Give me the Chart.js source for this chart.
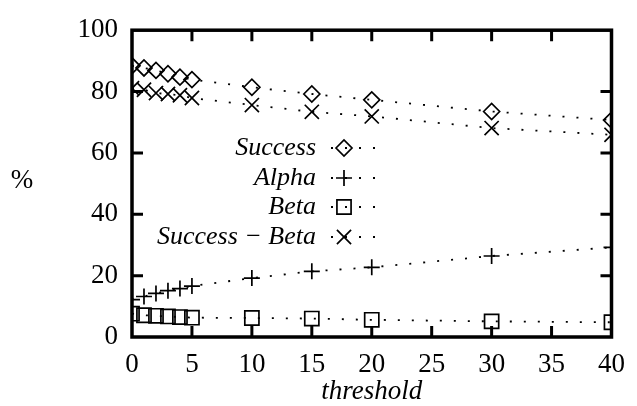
<!DOCTYPE html>
<html>
<head>
<meta charset="utf-8">
<script src="https://cdn.jsdelivr.net/npm/chart.js@4/dist/chart.umd.min.js"></script>
<style>
  html, body { margin: 0; padding: 0; background: #fff; }
  #wrap { width: 637px; height: 406px; }
</style>
</head>
<body>
<div id="wrap"><canvas id="chart" width="637" height="406"></canvas></div>
<script>
// data
const thresholds  = [0, 1, 2, 3, 4, 5, 10, 15, 20, 30, 40];
const success     = [88.4, 87.7, 86.9, 85.8, 84.7, 83.9, 81.4, 79.2, 77.3, 73.5, 70.7];
const alpha       = [12.2, 13.2, 14.2, 15.1, 15.8, 16.6, 19.2, 21.4, 22.7, 26.4, 29.2];
const beta        = [7.6, 7.1, 6.9, 6.7, 6.5, 6.3, 6.2, 6.0, 5.6, 5.1, 4.8];
const successBeta = [81.1, 80.6, 79.5, 79.2, 78.8, 77.9, 75.6, 73.4, 71.9, 68.1, 65.9];

const seriesLabels = ['Success', 'Alpha', 'Beta', 'Success \u2212 Beta'];
const xTicks = [0, 5, 10, 15, 20, 25, 30, 35, 40];
const yTicks = [0, 20, 40, 60, 80, 100];
const xTitle = 'threshold';
const yTitle = '%';

const SERIF = "'Liberation Serif', serif";
const DASH = [2, 12];

function pts(ys) {
  return thresholds.map((x, i) => ({x: x, y: ys[i]}));
}

function ds(label, ys, style, radius) {
  return {
    label: label,
    data: pts(ys),
    showLine: true,
    borderColor: '#000',
    borderWidth: 1.8,
    borderDash: DASH,
    backgroundColor: 'rgba(0,0,0,0)',
    pointStyle: style,
    pointRadius: radius,
    pointBorderWidth: 1.7,
    pointBorderColor: '#000',
    pointBackgroundColor: 'rgba(0,0,0,0)',
    tension: 0
  };
}

const data = {
  datasets: [
    ds(seriesLabels[0], success, 'rectRot', 8),
    ds(seriesLabels[1], alpha, 'cross', 8),
    ds(seriesLabels[2], beta, 'rect', 10),
    ds(seriesLabels[3], successBeta, 'crossRot', 10)
  ]
};

// frame, inward ticks, titles, legend
const decor = {
  id: 'decor',
  afterDraw(chart) {
    const ctx = chart.ctx;
    const {left, right, top, bottom} = chart.chartArea;
    const x = chart.scales.x, y = chart.scales.y;
    ctx.save();
    ctx.strokeStyle = '#000';
    ctx.setLineDash([]);
    ctx.lineWidth = 3.5;
    ctx.strokeRect(left, top, right - left, bottom - top);

    const tl = 11;
    ctx.lineWidth = 3;
    ctx.beginPath();
    xTicks.slice(1, -1).forEach(v => {
      const px = x.getPixelForValue(v);
      ctx.moveTo(px, bottom); ctx.lineTo(px, bottom - tl);
      ctx.moveTo(px, top); ctx.lineTo(px, top + tl);
    });
    yTicks.slice(1, -1).forEach(v => {
      const py = y.getPixelForValue(v);
      ctx.moveTo(left, py); ctx.lineTo(left + tl, py);
      ctx.moveTo(right, py); ctx.lineTo(right - tl, py);
    });
    ctx.stroke();

    // titles
    ctx.fillStyle = '#000';
    ctx.textBaseline = 'middle';
    ctx.textAlign = 'center';
    ctx.font = '27px ' + SERIF;
    ctx.fillText(yTitle, 22, 181);
    ctx.font = 'italic 27px ' + SERIF;
    ctx.fillText(xTitle, (left + right) / 2, 392);

    // legend
    const rows = [148, 178, 207, 237];
    chart.data.datasets.forEach((d, i) => {
      const ry = rows[i];
      ctx.font = 'italic 26px ' + SERIF;
      ctx.textAlign = 'right';
      ctx.fillText(d.label, 316, ry);
      ctx.lineWidth = d.borderWidth;
      ctx.setLineDash(DASH);
      ctx.beginPath();
      ctx.moveTo(331, ry); ctx.lineTo(380, ry);
      ctx.stroke();
      ctx.setLineDash([]);
      ctx.lineWidth = d.pointBorderWidth;
      ctx.fillStyle = 'rgba(0,0,0,0)';
      Chart.helpers.drawPoint(ctx, {
        pointStyle: d.pointStyle, radius: d.pointRadius,
        rotation: 0, borderWidth: d.pointBorderWidth
      }, 344, ry);
      ctx.fillStyle = '#000';
    });
    ctx.restore();
  }
};

const config = {
  type: 'scatter',
  data: data,
  options: {
    responsive: false,
    animation: false,
    layout: { padding: { top: 20, right: 15, left: 0, bottom: 0 } },
    plugins: { legend: { display: false }, tooltip: { enabled: false } },
    scales: {
      x: {
        type: 'linear', min: 0, max: 40,
        afterBuildTicks: s => { s.ticks = xTicks.map(v => ({value: v})); },
        afterFit: s => { s.height = 69; },
        grid: { display: false, drawTicks: false },
        border: { display: false },
        ticks: { color: '#000', font: { family: SERIF, size: 27 }, padding: 12, maxRotation: 0 }
      },
      y: {
        type: 'linear', min: 0, max: 100,
        afterBuildTicks: s => { s.ticks = yTicks.map(v => ({value: v})); },
        afterFit: s => { s.width = 132; },
        grid: { display: false, drawTicks: false },
        border: { display: false },
        ticks: { color: '#000', font: { family: SERIF, size: 27 }, padding: 14 }
      }
    }
  },
  plugins: [decor]
};

var chart = new Chart(document.getElementById('chart'), config);
</script>
</body>
</html>
